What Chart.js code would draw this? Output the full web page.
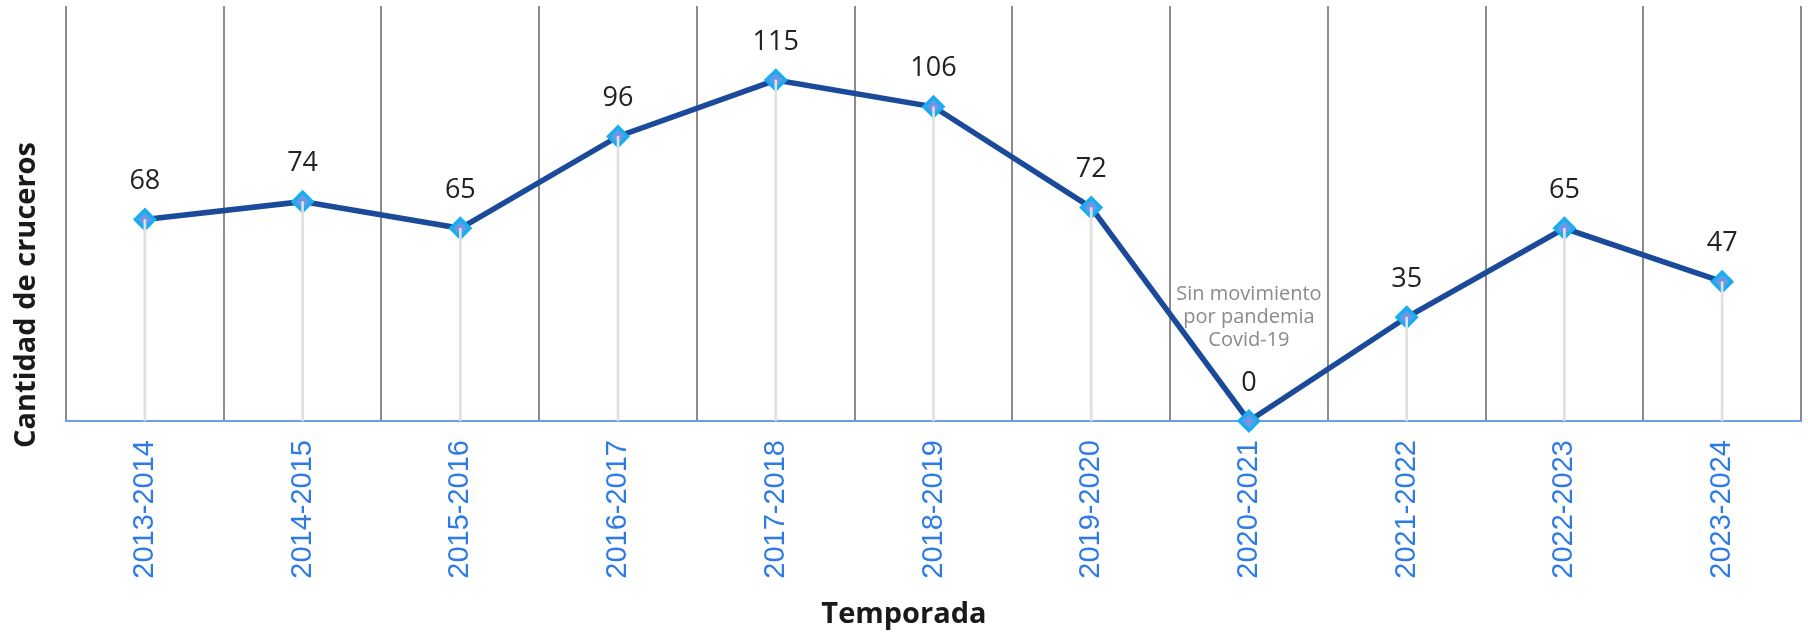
<!DOCTYPE html>
<html>
<head>
<meta charset="utf-8">
<script src="https://cdn.jsdelivr.net/npm/chart.js@4.4.1/dist/chart.umd.min.js"></script>
<style>
  html, body { margin: 0; padding: 0; background: #ffffff; }
  #wrap { width: 1808px; height: 633px; }
</style>
</head>
<body>
<div id="wrap"><canvas id="c" width="1808" height="633"></canvas></div>
<script>
// ---- data ----
const categories = ['2013-2014','2014-2015','2015-2016','2016-2017','2017-2018','2018-2019','2019-2020','2020-2021','2021-2022','2022-2023','2023-2024'];
const cruceros = [68, 74, 65, 96, 115, 106, 72, 0, 35, 65, 47];
const yTitle = 'Cantidad de cruceros';
const xTitle = 'Temporada';
const noteLines = ['Sin movimiento', 'por pandemia', 'Covid-19'];
const noteCategory = '2020-2021';

// ---- plugins ----
const valueLabels = {
  id: 'valueLabels',
  afterDatasetsDraw(chart) {
    const ctx = chart.ctx;
    const idx = chart.data.datasets.findIndex(d => d.type === 'line');
    const meta = chart.getDatasetMeta(idx);
    ctx.save();
    ctx.font = '27px "Open Sans"';
    ctx.fillStyle = '#222222';
    ctx.textAlign = 'center';
    ctx.textBaseline = 'middle';
    meta.data.forEach((pt, i) => {
      ctx.fillText(String(chart.data.datasets[idx].data[i]), pt.x, pt.y - 38);
    });
    ctx.restore();
  }
};

const noteText = {
  id: 'noteText',
  afterDatasetsDraw(chart) {
    const ctx = chart.ctx;
    const xs = chart.scales.x, ys = chart.scales.y;
    const x = xs.getPixelForValue(categories.indexOf(noteCategory));
    const base = ys.getPixelForValue(0);
    ctx.save();
    ctx.font = '20px "Open Sans"';
    ctx.fillStyle = '#8a8a8a';
    ctx.textAlign = 'center';
    ctx.textBaseline = 'middle';
    noteLines.forEach((t, i) => ctx.fillText(t, x, base - 127 + i * 23));
    ctx.restore();
  }
};

const axisTitles = {
  id: 'axisTitles',
  afterDraw(chart) {
    const ctx = chart.ctx;
    ctx.save();
    ctx.font = 'bold 29px "Open Sans"';
    ctx.fillStyle = '#1a1a1a';
    ctx.textAlign = 'center';
    ctx.textBaseline = 'middle';
    ctx.fillText(xTitle, chart.width / 2, 615);
    ctx.translate(27, 295);
    ctx.rotate(-Math.PI / 2);
    ctx.fillText(yTitle, 0, 0);
    ctx.restore();
  }
};

new Chart(document.getElementById('c'), {
  type: 'bar',
  data: {
    labels: categories,
    datasets: [
      {
        type: 'line',
        data: cruceros,
        borderColor: '#1a4a99',
        borderWidth: 5.5,
        tension: 0,
        pointStyle: 'rectRot',
        pointRadius: 9.5,
        pointBackgroundColor: '#6d97e6',
        pointBorderColor: '#18adef',
        pointBorderWidth: 3.5,
        clip: false,
        order: 1
      },
      {
        type: 'bar',
        data: cruceros,
        backgroundColor: '#e0e0e0',
        barThickness: 2,
        order: 0
      }
    ]
  },
  options: {
    responsive: false,
    maintainAspectRatio: false,
    animation: false,
    devicePixelRatio: 1,
    layout: { autoPadding: false, padding: { left: 0, right: 7, top: 6, bottom: 0 } },
    plugins: {
      legend: { display: false },
      tooltip: { enabled: false },
      title: { display: false }
    },
    scales: {
      x: {
        offset: true,
        grid: { display: true, offset: true, color: '#8c8c8c', lineWidth: 2, drawTicks: false },
        border: { display: true, color: '#6a9ef0', width: 2 },
        ticks: {
          minRotation: 90, maxRotation: 90, autoSkip: false, padding: 19,
          color: '#2e7be6',
          font: { family: 'Liberation Sans', size: 29 }
        },
        afterFit(scale) { scale.height = 633 - 421; }
      },
      y: {
        display: true,
        min: 0,
        max: 140,
        ticks: { display: false },
        grid: { display: false },
        border: { display: false },
        afterFit(scale) { scale.width = 66; }
      }
    }
  },
  plugins: [valueLabels, noteText, axisTitles]
});
</script>
</body>
</html>
